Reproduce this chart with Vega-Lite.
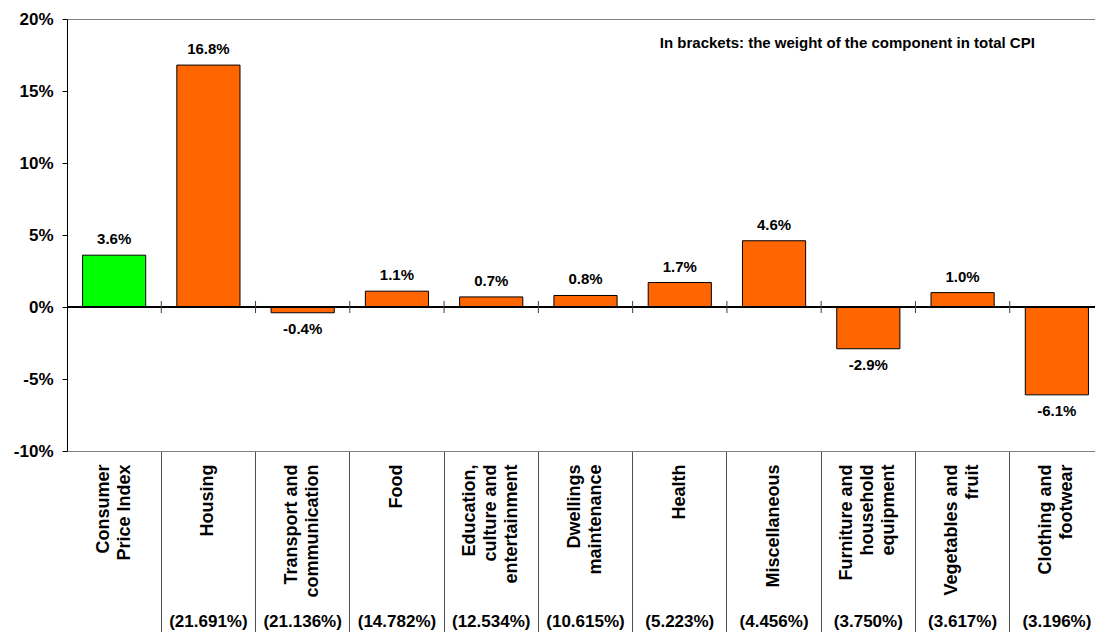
{
  "$schema": "https://vega.github.io/schema/vega-lite/v6.json",
  "width": 1037,
  "height": 432,
  "autosize": {"type": "none"},
  "padding": {"left": 67, "top": 19, "right": 0, "bottom": 181},
  "config": {
    "view": {"stroke": null},
    "font": "Liberation Sans",
    "locale": {"number": {"decimal": ".", "thousands": ",", "grouping": [3], "currency": ["$", ""], "minus": "-"}}
  },
  "data": {
    "values": [
      {"cat": "Consumer|Price Index", "v": 0.036, "w": ""},
      {"cat": "Housing", "v": 0.168, "w": "(21.691%)"},
      {"cat": "Transport and|communication", "v": -0.004, "w": "(21.136%)"},
      {"cat": "Food", "v": 0.011, "w": "(14.782%)"},
      {"cat": "Education,|culture and|entertainment", "v": 0.007, "w": "(12.534%)"},
      {"cat": "Dwellings|maintenance", "v": 0.008, "w": "(10.615%)"},
      {"cat": "Health", "v": 0.017, "w": "(5.223%)"},
      {"cat": "Miscellaneous", "v": 0.046, "w": "(4.456%)"},
      {"cat": "Furniture and|household|equipment", "v": -0.029, "w": "(3.750%)"},
      {"cat": "Vegetables and|fruit", "v": 0.010, "w": "(3.617%)"},
      {"cat": "Clothing and|footwear", "v": -0.061, "w": "(3.196%)"}
    ]
  },
  "encoding": {
    "x": {
      "field": "cat", "type": "nominal", "sort": null,
      "scale": {"paddingInner": 0, "paddingOuter": 0},
      "axis": {
        "title": null, "bandPosition": 0, "tickSize": 181, "tickWidth": 1,
        "tickColor": {"condition": {"test": "datum.value === 'Consumer|Price Index'", "value": "transparent"}, "value": "#505050"},
        "domain": true, "domainColor": "#808080", "domainWidth": 1,
        "labelAngle": -90, "labelAlign": "right", "labelBaseline": "middle",
        "labelPadding": -168, "labelExpr": "split(datum.label, '|')",
        "labelOffset": {"condition": [
          {"test": "length(split(datum.value, '|')) === 3", "value": -21},
          {"test": "length(split(datum.value, '|')) === 2", "value": -10.5}
        ], "value": 0},
        "labelFontWeight": "bold", "labelFontSize": 18, "labelLineHeight": 21,
        "labelColor": "black", "labelLimit": 400, "labelOverlap": false, "labelBound": false
      }
    }
  },
  "layer": [
    {
      "mark": {"type": "bar", "width": {"band": 0.67}, "stroke": "black", "strokeWidth": 1},
      "encoding": {
        "y": {
          "field": "v", "type": "quantitative",
          "scale": {"domain": [-0.1, 0.2], "nice": false, "zero": false},
          "axis": {
            "title": null, "values": [-0.1, -0.05, 0, 0.05, 0.1, 0.15, 0.2], "format": ".0%",
            "grid": true, "gridWidth": 1,
            "gridColor": {"condition": {"test": "datum.value > 0.19", "value": "#808080"}, "value": "transparent"},
            "domainColor": "black", "tickColor": "black", "tickSize": 5,
            "labelPadding": 9, "labelFontSize": 17, "labelFontWeight": "bold", "labelColor": "black"
          }
        },
        "color": {"condition": {"test": "datum.cat === 'Consumer|Price Index'", "value": "#00ff00"}, "value": "#ff6600"}
      }
    },
    {
      "mark": {"type": "rule", "color": "black", "strokeWidth": 1},
      "encoding": {"y": {"datum": 0}, "x": null}
    },
    {
      "transform": [{"filter": "datum.cat !== 'Consumer|Price Index'"}],
      "mark": {"type": "rule", "color": "#404040", "strokeWidth": 1, "yOffset": -6, "y2Offset": 6},
      "encoding": {
        "x": {"field": "cat", "type": "nominal", "sort": null, "bandPosition": 0},
        "y": {"datum": 0},
        "y2": {"datum": 0}
      }
    },
    {
      "transform": [{"filter": "datum.v >= 0"}],
      "mark": {"type": "text", "dy": -16, "fontSize": 15, "fontWeight": "bold", "color": "black", "baseline": "middle"},
      "encoding": {"y": {"field": "v", "type": "quantitative"}, "text": {"field": "v", "type": "quantitative", "format": ".1%"}}
    },
    {
      "transform": [{"filter": "datum.v < 0"}],
      "mark": {"type": "text", "dy": 16, "fontSize": 15, "fontWeight": "bold", "color": "black", "baseline": "middle"},
      "encoding": {"y": {"field": "v", "type": "quantitative"}, "text": {"field": "v", "type": "quantitative", "format": ".1%"}}
    },
    {
      "mark": {"type": "text", "dy": 171, "fontSize": 17, "fontWeight": "bold", "color": "black", "baseline": "middle"},
      "encoding": {"y": {"datum": -0.1}, "text": {"field": "w"}}
    },
    {
      "data": {"values": [{"note": "In brackets: the weight of the component in total CPI"}]},
      "mark": {"type": "text", "dx": -21, "fontSize": 15, "fontWeight": "bold", "color": "black", "baseline": "middle", "align": "center"},
      "encoding": {
        "x": {"datum": "Furniture and|household|equipment"},
        "y": {"datum": 0.183},
        "text": {"field": "note"}
      }
    }
  ]
}
